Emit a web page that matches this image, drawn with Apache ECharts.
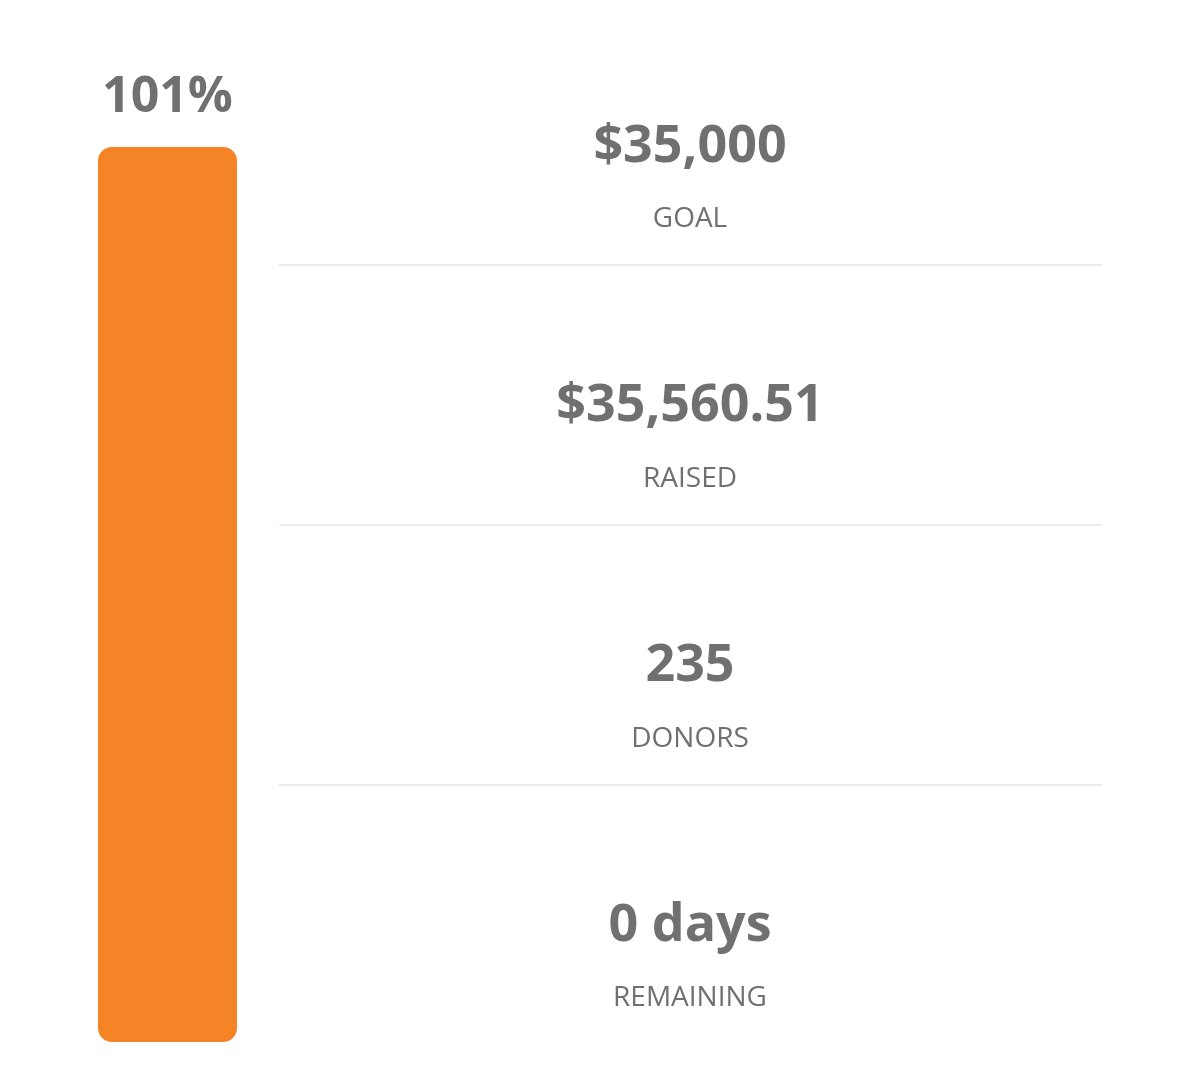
<!DOCTYPE html>
<html><head><meta charset="utf-8">
<script src="https://cdn.jsdelivr.net/npm/echarts@6/dist/echarts.min.js"></script>
<style>html,body{margin:0;background:#fff}#c{width:1200px;height:1065px}</style>
</head><body><div id="c"></div>
<script>
const categories = ['Progress'];
const percentValues = [101];
const statValues = ['$35,000', '$35,560.51', '235', '0 days'];
const statLabels = ['GOAL', 'RAISED', 'DONORS', 'REMAINING'];

const chart = echarts.init(document.getElementById('c'));
const graphic = [];
const valueY = [147, 406, 666, 926];
const labelY = [219, 479, 739, 998];
statValues.forEach((v, i) => {
  graphic.push({type:'text', x:690, y:valueY[i], style:{text:v, align:'center', verticalAlign:'middle', font:'bold 52px "Open Sans"', fill:'#707070'}});
  graphic.push({type:'text', x:690, y:labelY[i], style:{text:statLabels[i], align:'center', verticalAlign:'middle', font:'28px "Open Sans"', fill:'#707070'}});
  if (i < 3) graphic.push({type:'rect', shape:{x:279, y:labelY[i]+45, width:823, height:2}, style:{fill:'#ececec'}});
});
chart.setOption({
  animation:false,
  grid:{left:98, top:147, width:139, height:895},
  xAxis:{type:'category', data:categories, show:false},
  yAxis:{type:'value', min:0, max:101, show:false},
  series:[{type:'bar', data:percentValues, barWidth:'100%',
    itemStyle:{color:'#f58426', borderRadius:14},
    label:{show:true, position:'top', distance:24, formatter:'{c}%', font:'bold 50px "Open Sans"', fontWeight:'bold', fontSize:50, fontFamily:'Open Sans', color:'#707070'}}],
  graphic
});
</script></body></html>
